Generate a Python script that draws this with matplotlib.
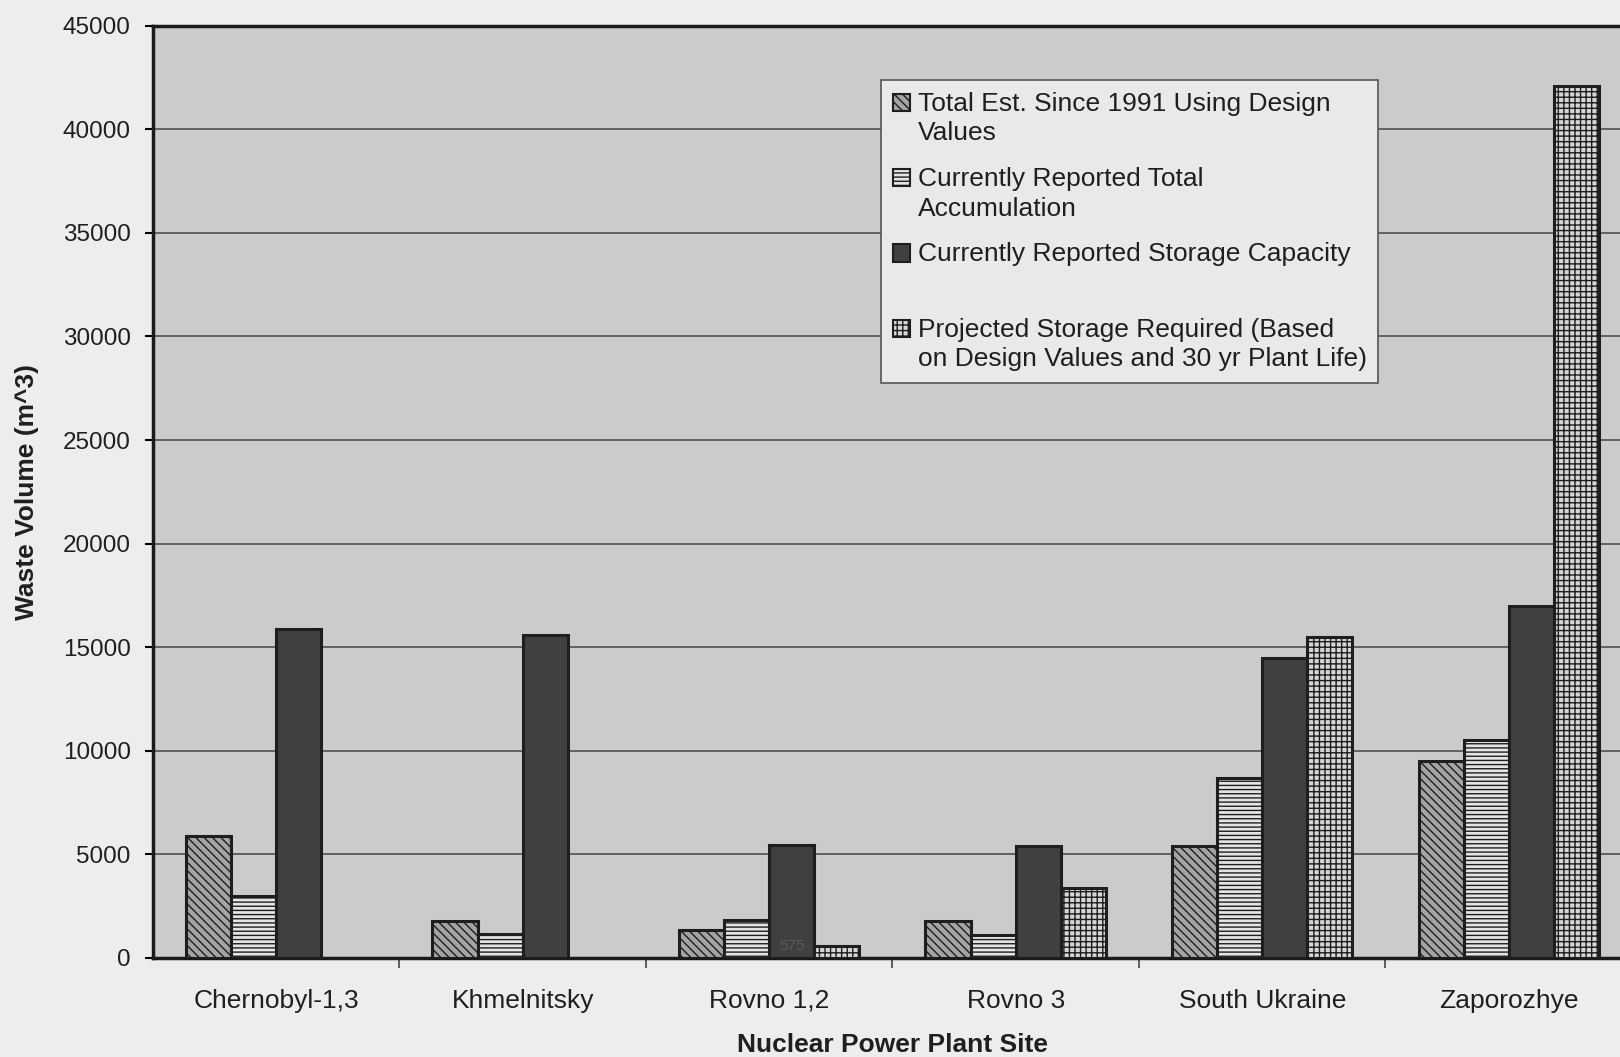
import numpy as np
import matplotlib.pyplot as plt
import matplotlib.patches as mpatches
from matplotlib.container import BarContainer
from matplotlib.legend_handler import HandlerPatch, update_from_first_child

plt.rcParams['font.family'] = ['Liberation Sans', 'DejaVu Sans']
plt.rcParams['hatch.linewidth'] = 1.0

sites = ['Chernobyl-1,3', 'Khmelnitsky', 'Rovno 1,2', 'Rovno 3', 'South Ukraine', 'Zaporozhye']

# waste volumes, m^3 (nan = no bar for that site)
design_est = [5900, 1800, 1350, 1800, 5400, 9500]
reported_total = [3000, 1150, 1850, 1100, 8700, 10500]
storage_capacity = [15900, 15600, 5450, 5400, 14500, 17000]
projected_required = [np.nan, np.nan, 575, 3400, 15500, 42100]

labels = [
    'Total Est. Since 1991 Using Design\nValues',
    'Currently Reported Total\nAccumulation',
    'Currently Reported Storage Capacity\n ',
    'Projected Storage Required (Based\non Design Values and 30 yr Plant Life)',
]
series = [design_est, reported_total, storage_capacity, projected_required]
faces = ['#a4a4a4', '#e4e4e4', '#404040', '#d6d6d6']
hatches = ['\\\\\\\\', '----', '', '+++']
txt = '#1f1f1f'

fig = plt.figure(figsize=(16.2, 10.57), dpi=100)
fig.patch.set_facecolor('#ededed')
ax = fig.add_axes([0.0944, 0.0937, 0.913, 0.882])
ax.set_facecolor('#cbcbcb')

x = np.arange(len(sites))
w = 0.183
for j, (vals, lab, fc, h) in enumerate(zip(series, labels, faces, hatches)):
    ax.bar(x + (j - 1.5) * w, vals, width=w, color=fc, hatch=h,
           edgecolor='#1e1e1e', linewidth=2.2, label=lab, zorder=3)

# stray value label near the Rovno 1,2 bars
ax.text(2 + 0.5 * w, projected_required[2], '575', ha='center', va='center',
        fontsize=11, color='#5a5a5a', zorder=4)

ax.set_ylim(0, 45000)
ax.set_xlim(-0.5, 5.5)
ax.set_yticks(np.arange(0, 45001, 5000))
ax.yaxis.grid(True, color='#505050', linewidth=1.2, zorder=1)
ax.set_axisbelow(True)

ax.set_xticks(x)
ax.set_xticklabels(sites)
ax.set_xticks(np.arange(0.5, 5.5, 1), minor=True)
ax.tick_params(axis='x', which='major', length=0, pad=22, labelsize=19, labelcolor=txt)
ax.tick_params(axis='x', which='minor', length=7, width=1.2, color='#444444')
ax.tick_params(axis='y', length=6, width=1.5, pad=10, labelsize=17.5, labelcolor=txt)

for s in ax.spines.values():
    s.set_linewidth(2.5)
    s.set_color('#1a1a1a')

ax.set_ylabel('Waste Volume (m^3)', fontsize=19, fontweight='bold', color=txt)
ax.yaxis.set_label_coords(-0.077, 0.5)
ax.set_xlabel('Nuclear Power Plant Site', fontsize=19, fontweight='bold', color=txt)
ax.xaxis.set_label_coords(0.5, -0.081)


# legend swatch sits beside the first line of a two-line label
def top_patch(legend, orig_handle, xdescent, ydescent, width, height, fontsize):
    return mpatches.Rectangle((-xdescent, -ydescent + 0.62 * fontsize), width, height)


leg = ax.legend(loc='upper left', bbox_to_anchor=(0.492, 0.942), borderaxespad=0,
                fontsize=19, frameon=True, fancybox=False, edgecolor='#555555',
                facecolor='#e9e9e9', framealpha=1, handlelength=0.65, handleheight=0.65,
                handletextpad=0.3, labelspacing=0.82, borderpad=0.45,
                handler_map={BarContainer: HandlerPatch(patch_func=top_patch,
                                                        update_func=update_from_first_child)})
leg.get_frame().set_linewidth(1.2)
for t in leg.get_texts():
    t.set_color(txt)
    t.set_linespacing(1.3)
for p in leg.get_patches():
    p.set_linewidth(1.5)

fig.savefig('out.png', dpi=100, facecolor=fig.get_facecolor())
